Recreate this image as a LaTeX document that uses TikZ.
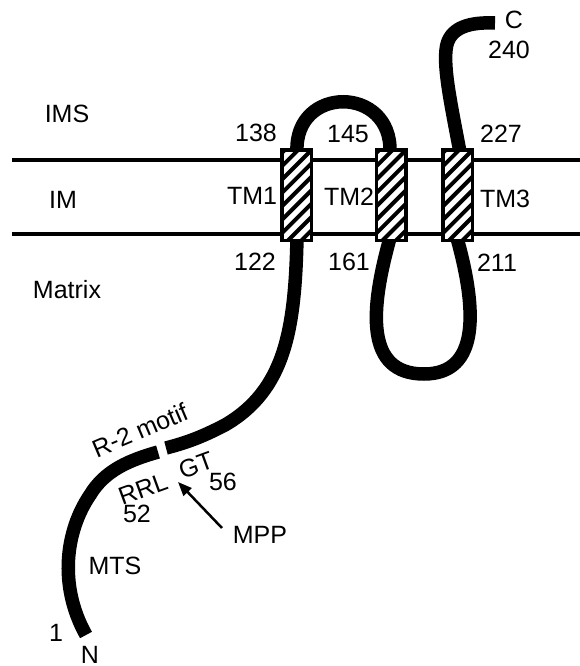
\documentclass[tikz,border=0pt]{standalone}
\usepackage{fontspec}
\setmainfont{Liberation Sans}
\usetikzlibrary{arrows.meta}
\begin{document}
\begin{tikzpicture}[x=1pt,y=-1pt,
  lbl/.style={font=\fontsize{25}{29}\selectfont, inner sep=0pt},
  chain/.style={line width=13.5pt, line cap=butt},
  memb/.style={line width=4pt},
  tmbox/.style={draw, line width=3.5pt, fill=white, minimum width=29.5pt,
    minimum height=90.5pt, inner sep=0pt,
    path picture={\foreach \k in {-7,...,7}
      \draw[line width=4pt] ([shift={(-30,\k*13.4)}]path picture bounding box.center) -- ++(60,-60);}},
  mpparrow/.style={line width=2.5pt, -{Triangle[length=14pt,width=11pt]}}]
\useasboundingbox (0,0) rectangle (580,666);

% membranes
\coordinate (omL) at (12,160); \coordinate (omR) at (580,160);
\coordinate (imL) at (12,234); \coordinate (imR) at (580,234);
\draw[memb] (omL) -- (omR);
\draw[memb] (imL) -- (imR);

% anchor points of the chain
\coordinate (tm1top) at (297,152);
\coordinate (tm1bot) at (297,238);
\coordinate (tm2top) at (390,152);
\coordinate (tm2bot) at (390,238);
\coordinate (tm3top) at (460,152);
\coordinate (tm3bot) at (457,238);
\coordinate (cterm) at (495,23);
\coordinate (nterm) at (86,635);
\coordinate (gapR) at (166,448);
\coordinate (gapL) at (158,452);

% IMS loop TM1-TM2
\draw[chain] (tm1top) .. controls (294,85) and (392,85) .. (tm2top);
% matrix loop TM2-TM3
\draw[chain] (tm2bot) .. controls (370,310) and (365,374) .. (424,374)
  .. controls (480,374) and (477,310) .. (tm3bot);
% C-terminal tail
\draw[chain] (tm3top) .. controls (450,100) and (444,70) .. (446,50)
  .. controls (448,26) and (472,22) .. (cterm);
% N-terminal part after cleavage site
\draw[chain] (tm1bot) .. controls (295,330) and (285,390) .. (225,425)
  .. controls (200,438) and (185,443) .. (gapR);
% MTS part
\draw[chain] (gapL) .. controls (130,460) and (105,470) .. (90,495)
  .. controls (66,530) and (58,585) .. (nterm);

% transmembrane boxes
\node[tmbox] (tm1) at (296.5,195) {};
\node[tmbox] (tm2) at (391,195) {};
\node[tmbox] (tm3) at (457.5,195) {};

% labels
\node[lbl] (ims) at (67,114) {IMS};
\node[lbl] (im) at (63,200) {IM};
\node[lbl] (matrix) at (67,290) {Matrix};
\node[lbl] (n138) at (256,133) {138};
\node[lbl] (n145) at (348,134) {145};
\node[lbl] (n227) at (501,134) {227};
\node[lbl] (ltm1) at (252,196) {TM1};
\node[lbl] (ltm2) at (349,197) {TM2};
\node[lbl] (ltm3) at (505,199) {TM3};
\node[lbl] (n122) at (255,262) {122};
\node[lbl] (n161) at (349,262) {161};
\node[lbl] (n211) at (497,263) {211};
\node[lbl] (lc) at (514,20) {C};
\node[lbl] (n240) at (509,50) {240};
\node[lbl, rotate=23] (r2) at (140,430) {R-2 motif};
\node[lbl, rotate=20] (rrl) at (143,489) {RRL};
\node[lbl, rotate=20] (gt) at (196,465) {GT};
\node[lbl] (n52) at (137,514) {52};
\node[lbl] (n56) at (223,482) {56};
\node[lbl] (mpp) at (260,535) {MPP};
\node[lbl] (mts) at (115,566) {MTS};
\node[lbl] (n1) at (56,633) {1};
\node[lbl] (ln) at (90,655) {N};

% MPP cleavage arrow
\coordinate (mpptail) at (222,528);
\coordinate (cleave) at (178,482);
\draw[mpparrow] (mpptail) -- (cleave);
\end{tikzpicture}
\end{document}
